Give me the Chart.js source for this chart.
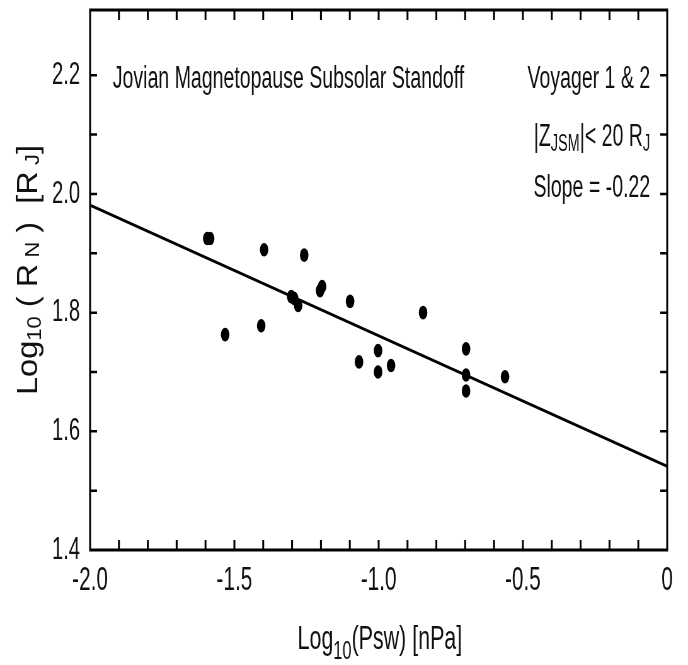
<!DOCTYPE html>
<html>
<head>
<meta charset="utf-8">
<script src="https://cdn.jsdelivr.net/npm/chart.js@4.4.0/dist/chart.umd.min.js"></script>
<style>
  html, body { margin: 0; padding: 0; background: #fff; overflow: hidden; }
  /* the figure is laid out wide and then squeezed horizontally */
  #wrap { width: 1092px; height: 665px; transform: scaleX(0.63); transform-origin: 0 0; }
  #chart { width: 1092px; height: 665px; }
</style>
</head>
<body>
<div id="wrap"><canvas id="chart" width="1092" height="665"></canvas></div>
<script>
// Log10 of solar wind dynamic pressure [nPa] for each magnetopause crossing
const pressureLog = [-1.594, -1.584, -1.397, -1.258, -1.532, -1.407, -1.303, -1.293, -1.279, -1.203, -1.196,
                     -1.099, -0.846, -1.068, -1.002, -1.002, -0.957, -0.697, -0.697, -0.697, -0.562];
// Log10 of the subsolar standoff distance [R_J]
const standoffLog = [1.925, 1.925, 1.906, 1.897, 1.763, 1.778, 1.827, 1.824, 1.812, 1.837, 1.844,
                     1.819, 1.800, 1.717, 1.736, 1.700, 1.711, 1.739, 1.695, 1.668, 1.692];

// least squares fit
const fitSlope = -0.22;
const fitIntercept = 1.541;
const fitRange = [-2.0, 0];

const xTickValues = [-2.0, -1.5, -1.0, -0.5, 0];
const xTickLabels = ['-2.0', '-1.5', '-1.0', '-0.5', '0'];
const xTickMarks = [-1.9, -1.8, -1.7, -1.6, -1.5, -1.4, -1.3, -1.2, -1.1, -1.0,
                    -0.9, -0.8, -0.7, -0.6, -0.5, -0.4, -0.3, -0.2, -0.1];
const yTickValues = [1.4, 1.6, 1.8, 2.0, 2.2];
const yTickLabels = ['1.4', '1.6', '1.8', '2.0', '2.2'];
const yTickMarks = [1.5, 1.6, 1.7, 1.8, 1.9, 2.0, 2.1, 2.2];

const FONT = "'Liberation Sans', Arial, Helvetica, sans-serif";
const INK = '#111';

function labelFor(values, labels, v) {
    const i = values.findIndex(t => Math.abs(t - v) < 1e-6);
    return i >= 0 ? labels[i] : '';
}

// tick labels must not push the plot area inward
function noLabelPadding(s) {
    s.paddingTop = 0;
    s.paddingBottom = 0;
    s.paddingLeft = 0;
    s.paddingRight = 0;
}

// draw a row of text pieces; pieces may be lowered and smaller (subscripts)
function drawRuns(ctx, runs, x, y, align) {
    let total = 0;
    runs.forEach(r => {
        ctx.font = r.size + 'px ' + FONT;
        r.w = ctx.measureText(r.t).width;
        total += r.w;
    });
    let cx = align === 'right' ? x - total : align === 'center' ? x - total / 2 : x;
    ctx.textAlign = 'left';
    ctx.textBaseline = 'alphabetic';
    runs.forEach(r => {
        ctx.font = r.size + 'px ' + FONT;
        ctx.fillText(r.t, cx, y + (r.dy || 0));
        cx += r.w;
    });
    return total;
}

const frameAndText = {
    id: 'frameAndText',
    afterDatasetsDraw(chart) {
        const { ctx, chartArea: a, scales: { x, y } } = chart;
        ctx.save();
        ctx.strokeStyle = '#000';
        ctx.lineWidth = 3;
        ctx.strokeRect(a.left, a.top, a.right - a.left, a.bottom - a.top);

        // inward ticks, top and bottom
        ctx.beginPath();
        xTickMarks.forEach(v => {
            const px = x.getPixelForValue(v);
            ctx.moveTo(px, a.bottom); ctx.lineTo(px, a.bottom - 10);
            ctx.moveTo(px, a.top); ctx.lineTo(px, a.top + 10);
        });
        ctx.stroke();

        // inward ticks, left and right
        ctx.lineWidth = 2.5;
        ctx.beginPath();
        yTickMarks.forEach(v => {
            const py = y.getPixelForValue(v);
            ctx.moveTo(a.left, py); ctx.lineTo(a.left + 11, py);
            ctx.moveTo(a.right, py); ctx.lineTo(a.right - 11, py);
        });
        ctx.stroke();

        ctx.fillStyle = INK;
        drawRuns(ctx, [{ t: 'Jovian Magnetopause Subsolar Standoff', size: 31 }], 179, 88, 'left');
        drawRuns(ctx, [{ t: 'Voyager 1 & 2', size: 31 }], 1032, 88, 'right');
        drawRuns(ctx, [
            { t: '|Z', size: 31 },
            { t: 'JSM', size: 23, dy: 5 },
            { t: '|< 20 R', size: 31 },
            { t: 'J', size: 23, dy: 5 }
        ], 1032, 146, 'right');
        drawRuns(ctx, [{ t: 'Slope = ' + fitSlope.toFixed(2), size: 31 }], 1032, 197, 'right');

        // x axis title
        drawRuns(ctx, [
            { t: 'Log', size: 34 },
            { t: '10', size: 26, dy: 10 },
            { t: '(Psw) [nPa]', size: 34 }
        ], 603, 649, 'center');

        // y axis title, rotated and fitted to its length
        const yRuns = [
            { t: 'Log', size: 46 },
            { t: '10', size: 31, dy: 6 },
            { t: ' ( R', size: 46 },
            { t: ' N', size: 31, dy: 3 },
            { t: ' )  [R', size: 46 },
            { t: ' J', size: 31, dy: 3 },
            { t: ']', size: 46 }
        ];
        let len = 0;
        yRuns.forEach(r => { ctx.font = r.size + 'px ' + FONT; len += ctx.measureText(r.t).width; });
        ctx.translate(43, 270);
        ctx.rotate(-Math.PI / 2);
        ctx.scale(250 / len, 1);
        drawRuns(ctx, yRuns, 0, 0.716 * 46 / 2, 'center');
        ctx.restore();
    }
};

new Chart(document.getElementById('chart').getContext('2d'), {
    type: 'scatter',
    data: {
        datasets: [
            {
                label: 'Crossings',
                data: pressureLog.map((p, i) => ({ x: p, y: standoffLog[i] })),
                backgroundColor: '#000',
                borderColor: '#000',
                borderWidth: 0,
                pointRadius: 6.8,
                pointHoverRadius: 6.8
            },
            {
                label: 'Fit',
                type: 'line',
                data: fitRange.map(p => ({ x: p, y: fitIntercept + fitSlope * p })),
                borderColor: '#000',
                borderWidth: 3,
                pointRadius: 0,
                fill: false
            }
        ]
    },
    options: {
        responsive: false,
        animation: false,
        layout: { padding: { top: 10, right: 33, left: 0, bottom: 0 } },
        plugins: {
            legend: { display: false },
            tooltip: { enabled: false }
        },
        scales: {
            x: {
                type: 'linear',
                min: -2.0,
                max: 0,
                grid: { display: false, drawTicks: false },
                border: { display: false },
                afterBuildTicks: s => { s.ticks = xTickValues.map(v => ({ value: v })); },
                afterFit: s => { s.height = 115; noLabelPadding(s); },
                ticks: {
                    autoSkip: false,
                    maxRotation: 0,
                    padding: 11,
                    color: INK,
                    font: { family: FONT, size: 33 },
                    callback: v => labelFor(xTickValues, xTickLabels, v)
                }
            },
            y: {
                type: 'linear',
                min: 1.4,
                max: 2.31,
                grid: { display: false, drawTicks: false },
                border: { display: false },
                afterBuildTicks: s => { s.ticks = yTickValues.map(v => ({ value: v })); },
                afterFit: s => { s.width = 143; noLabelPadding(s); },
                ticks: {
                    autoSkip: false,
                    padding: 16,
                    color: INK,
                    font: { family: FONT, size: 32 },
                    callback: v => labelFor(yTickValues, yTickLabels, v)
                }
            }
        }
    },
    plugins: [frameAndText]
});
</script>
</body>
</html>
